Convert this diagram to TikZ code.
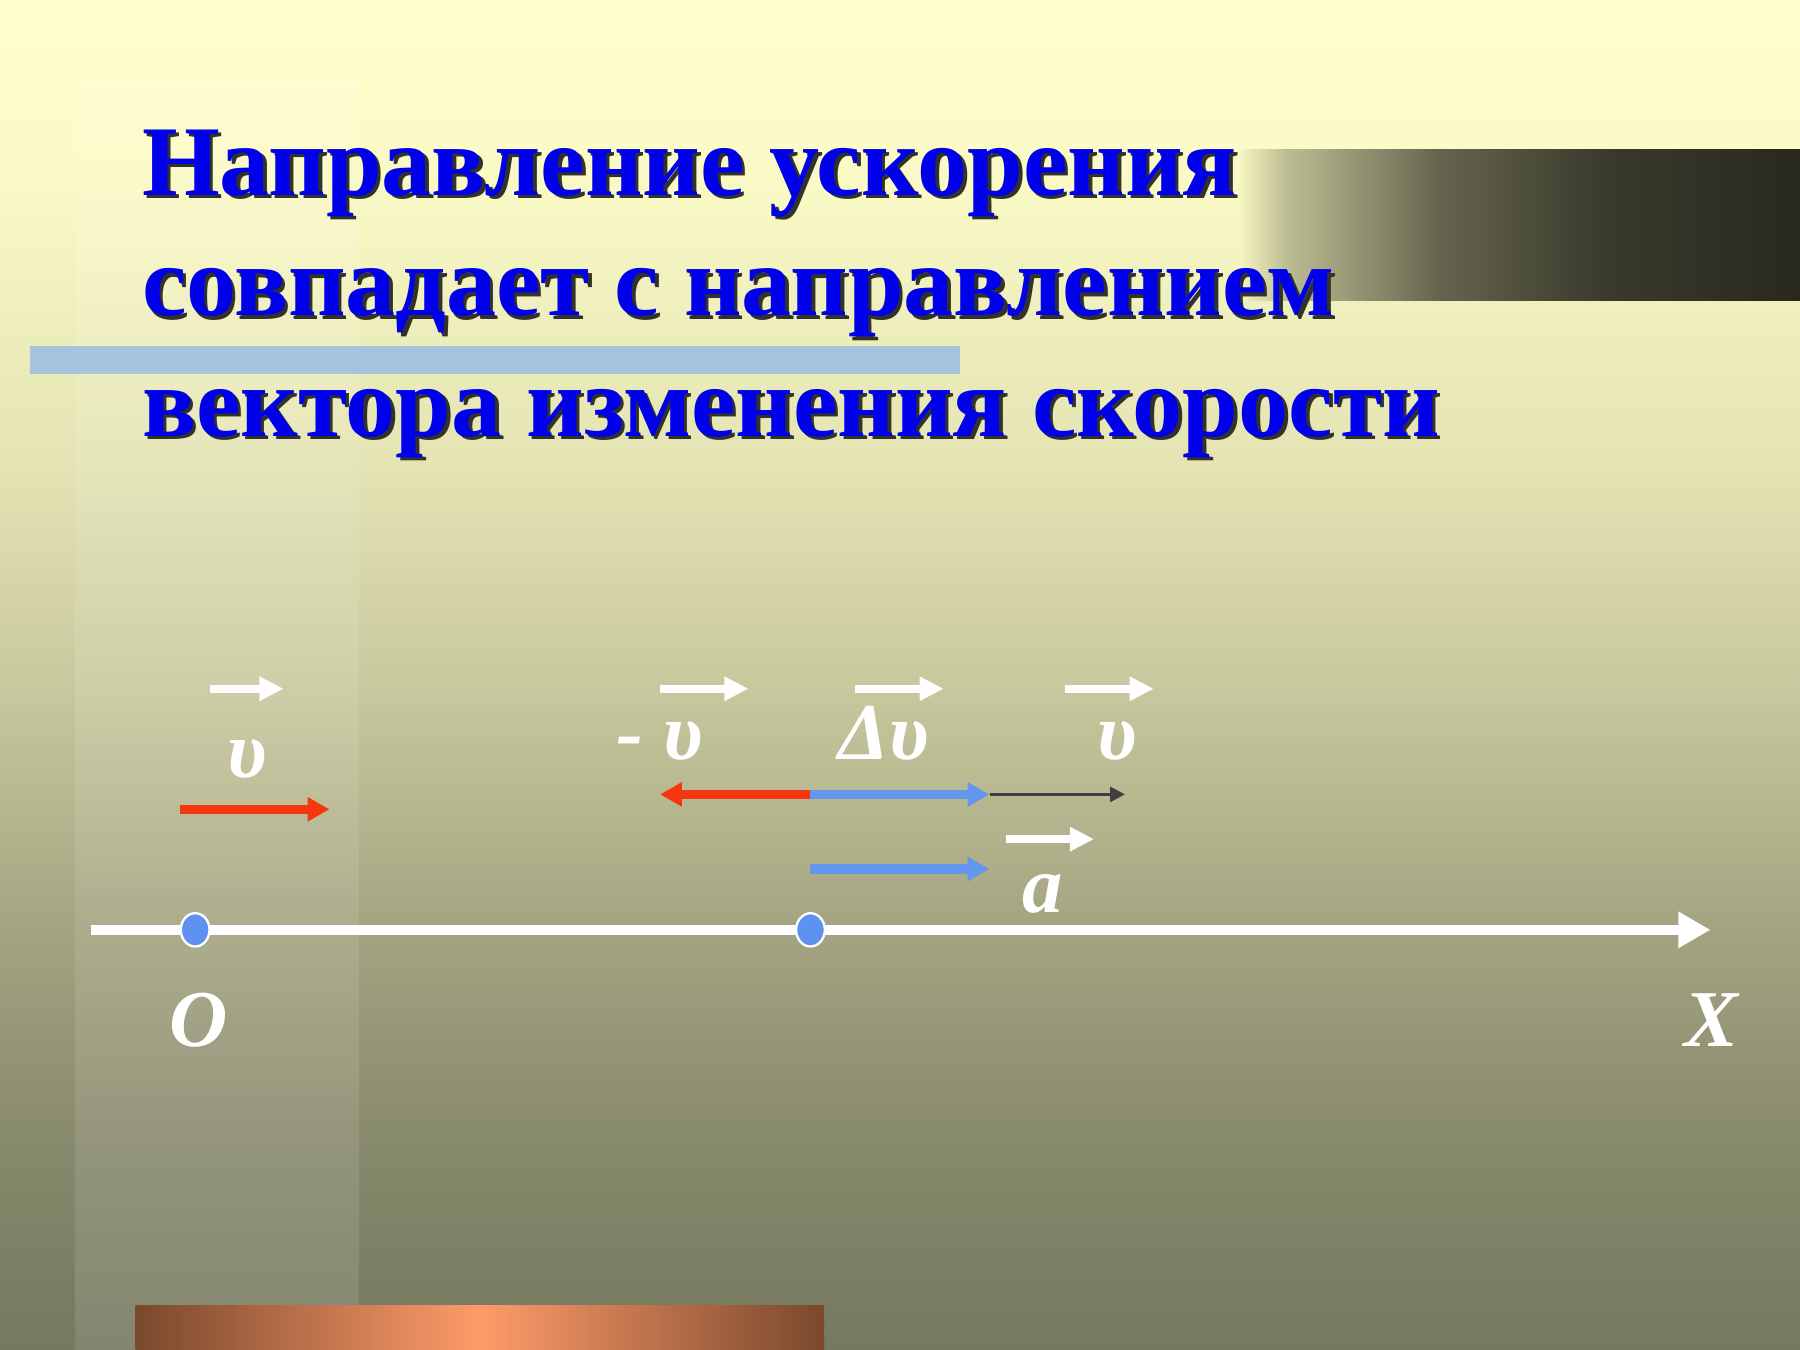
\documentclass[tikz,border=0pt]{standalone}
\usepackage{fontspec}
\setmainfont{Liberation Serif}
\usetikzlibrary{arrows.meta,shapes.geometric}

\definecolor{bgA}{RGB}{255,255,205}
\definecolor{bgA2}{RGB}{250,250,198}
\definecolor{bgB}{RGB}{228,228,180}
\definecolor{bgC}{RGB}{200,200,158}
\definecolor{bgD}{RGB}{165,165,130}
\definecolor{bgE}{RGB}{135,137,108}
\definecolor{bgF}{RGB}{118,120,95}
\definecolor{barA}{RGB}{246,246,194}
\definecolor{barB}{RGB}{190,190,148}
\definecolor{barC}{RGB}{100,100,78}
\definecolor{barD}{RGB}{58,58,44}
\definecolor{barE}{RGB}{40,40,30}
\definecolor{titleblue}{RGB}{0,0,235}
\definecolor{shadowgray}{RGB}{50,50,40}
\definecolor{stripeblue}{RGB}{166,196,222}
\definecolor{copperD}{RGB}{122,72,45}
\definecolor{copperL}{RGB}{255,155,105}
\definecolor{vecred}{RGB}{245,55,15}
\definecolor{vecblue}{RGB}{100,150,240}
\definecolor{dotblue}{RGB}{95,145,240}
\definecolor{thingray}{RGB}{64,64,64}

\pgfdeclareverticalshading{slidebg}{100bp}{color(0bp)=(bgF); color(25bp)=(bgF); color(32.5bp)=(bgE); color(41bp)=(bgD); color(49.5bp)=(bgC); color(58bp)=(bgB); color(68.6bp)=(bgA2); color(75bp)=(bgA); color(100bp)=(bgA)}
\pgfdeclarehorizontalshading{darkbar}{100bp}{color(0bp)=(barA); color(25bp)=(barA); color(29bp)=(barB); color(43bp)=(barC); color(57.7bp)=(barD); color(75bp)=(barE); color(100bp)=(barE)}

\begin{document}
\begin{tikzpicture}[
  ttl/.style={anchor=base west, inner sep=0pt, text=titleblue, font=\bfseries\fontsize{24.8pt}{30pt}\selectfont},
  ttlshadow/.style={ttl, text=shadowgray},
  lbl/.style={anchor=base, inner sep=0pt, text=white, font=\bfseries\itshape\fontsize{20pt}{24pt}\selectfont},
  overvec/.style={draw=white, line width=0.07cm, -{Triangle[length=0.21cm,width=0.20cm]}},
  redvec/.style={draw=vecred, line width=0.08cm, -{Triangle[length=0.19cm,width=0.20cm]}},
  bluevec/.style={draw=vecblue, line width=0.08cm, -{Triangle[length=0.19cm,width=0.20cm]}},
  dot/.style={ellipse, fill=dotblue, draw=white, line width=0.02cm, minimum width=0.25cm, minimum height=0.29cm, inner sep=0pt}
]
\useasboundingbox (0,0) rectangle (15.68,-11.76);

% slide background
\shade[shading=slidebg] (0,0) rectangle (15.68,-11.76);
\fill[white, opacity=0.10] (0.65,-0.65) rectangle (3.13,-11.76);
\shade[shading=darkbar] (10.80,-1.30) rectangle (15.68,-2.62);
\fill[stripeblue] (0.26,-3.01) rectangle (8.36,-3.26);
\shade[left color=copperD, right color=copperD, middle color=copperL] (1.18,-11.37) rectangle (7.18,-11.76);

% title
\node[ttlshadow] at (1.26,-1.73) {Направление ускорения};
\node[ttl] (t1) at (1.23,-1.70) {Направление ускорения};
\node[ttlshadow] at (1.26,-2.78) {совпадает с направлением};
\node[ttl] (t2) at (1.23,-2.75) {совпадает с направлением};
\node[ttlshadow] at (1.26,-3.83) {вектора изменения скорости};
\node[ttl] (t3) at (1.23,-3.80) {вектора изменения скорости};

% axis
\coordinate (axL) at (0.79,-8.10);
\coordinate (axR) at (14.90,-8.10);
\draw[white, line width=0.09cm, -{Triangle[length=0.28cm,width=0.30cm]}] (axL) -- (axR);
\node[dot] (O) at (1.70,-8.10) {};
\node[dot] (P) at (7.06,-8.10) {};
\node[lbl] (labO) at (1.73,-9.12) {O};
\node[lbl] (labX) at (14.91,-9.12) {X};

% velocity at O
\coordinate (v0) at (1.57,-7.05);
\coordinate (v1) at (2.87,-7.05);
\draw[redvec] (v0) -- (v1);
\node[lbl] (labv) at (2.15,-6.77) {υ};
\coordinate (ov0) at (1.83,-6.00);
\coordinate (ov1) at (2.47,-6.00);
\draw[overvec] (ov0) -- (ov1);

% vectors at P
\coordinate (m) at (7.06,-6.92);
\coordinate (mL) at (5.75,-6.92);
\coordinate (mR) at (8.62,-6.92);
\coordinate (gR) at (9.80,-6.92);
\draw[redvec] (m) -- (mL);
\draw[bluevec] (m) -- (mR);
\draw[draw=thingray, line width=0.025cm, -{Triangle[length=0.13cm,width=0.13cm]}] (mR) -- (gR);
\coordinate (a0) at (7.06,-7.57);
\coordinate (a1) at (8.62,-7.57);
\draw[bluevec] (a0) -- (a1);

\node[lbl] (labmv) at (5.75,-6.62) {- υ};
\node[lbl] (labdv) at (7.70,-6.62) {Δυ};
\node[lbl] (labv2) at (9.73,-6.62) {υ};
\node[lbl] (laba) at (9.08,-7.95) {a};

\coordinate (ow0) at (5.75,-6.00);
\coordinate (ow1) at (6.52,-6.00);
\draw[overvec] (ow0) -- (ow1);
\coordinate (ox0) at (7.45,-6.00);
\coordinate (ox1) at (8.22,-6.00);
\draw[overvec] (ox0) -- (ox1);
\coordinate (oy0) at (9.28,-6.00);
\coordinate (oy1) at (10.05,-6.00);
\draw[overvec] (oy0) -- (oy1);
\coordinate (oz0) at (8.76,-7.31);
\coordinate (oz1) at (9.53,-7.31);
\draw[overvec] (oz0) -- (oz1);
\end{tikzpicture}
\end{document}
